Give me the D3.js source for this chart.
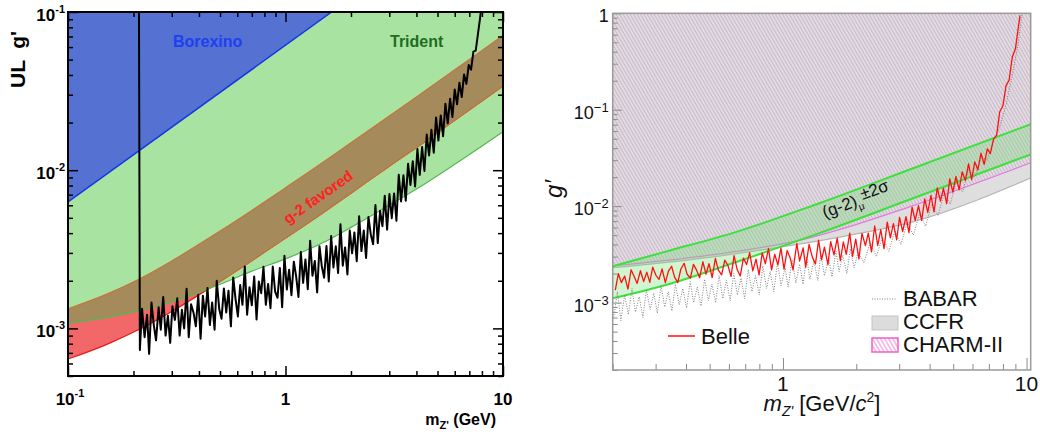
<!DOCTYPE html>
<html>
<head>
<meta charset="utf-8">
<script src="https://cdn.jsdelivr.net/npm/d3@7"></script>
<style>
  body { margin: 0; background: #fff; }
  svg { display: block; font-family: "Liberation Sans", Arial, sans-serif; }
</style>
</head>
<body>
<script>
const E3 = 1e-3; // every g' value below is stored in units of 1e-3

// ---------- left panel: constraints + upper limit ----------
const curveMass = [0.1, 0.15, 0.214, 0.3, 0.5, 0.7, 1, 1.5, 2, 3, 4, 6, 10];
const tridentG  = [1.08, 1.17, 1.3, 1.47, 1.9, 2.3, 2.75, 3.5, 4.35, 6.0, 7.6, 10.9, 17.5];
const g2LowG    = [0.64, 0.79, 0.99, 1.28, 1.98, 2.68, 3.72, 5.43, 7.16, 10.6, 13.9, 20.7, 34.1];
const g2HighG   = [1.33, 1.64, 2.06, 2.67, 4.12, 5.57, 7.74, 11.3, 14.9, 22.0, 29.0, 43.1, 71.0];
const borexinoMass = [0.1, 1.63];
const borexinoG    = [6.3, 100];
// observed upper limit [mass GeV, g' x1e-3]
const ulPoints = [[0.212,100],[0.214,0.73],[0.219,1.33],[0.225,0.88],[0.231,1.22],[0.236,0.69],[0.242,1.46],[0.248,1.05],[0.254,0.84],[0.261,1.36],[0.267,0.98],
  [0.274,1.58],[0.281,0.90],[0.288,1.20],[0.295,0.81],[0.302,1.38],[0.310,1.13],[0.318,1.55],[0.326,0.90],[0.334,1.31],[0.342,1.00],
  [0.351,1.78],[0.359,0.88],[0.368,1.42],[0.378,1.25],[0.387,1.03],[0.397,1.63],[0.407,0.86],[0.417,1.61],[0.427,1.19],[0.438,1.80],
  [0.449,1.05],[0.460,1.46],[0.472,0.98],[0.483,2.0],[0.496,1.32],[0.508,1.15],[0.521,1.79],[0.534,1.26],[0.547,1.73],[0.561,1.03],
  [0.575,2.10],[0.589,1.54],[0.604,1.19],[0.619,1.88],[0.634,1.41],[0.650,2.46],[0.666,1.22],[0.683,1.82],[0.700,1.40],[0.718,2.13],
  [0.736,1.14],[0.754,1.98],[0.773,1.67],[0.792,2.45],[0.812,1.41],[0.832,1.91],[0.853,1.34],[0.874,2.46],[0.896,1.71],[0.919,1.56],
  [0.942,2.41],[0.965,1.36],[0.989,2.88],[1.014,1.76],[1.039,2.35],[1.065,1.62],[1.092,2.64],[1.119,2.14],[1.147,1.58],[1.176,3.04],
  [1.205,1.94],[1.235,2.73],[1.266,1.77],[1.298,3.58],[1.330,2.15],[1.364,2.67],[1.398,1.69],[1.433,3.31],[1.468,2.48],[1.505,2.09],
  [1.543,3.32],[1.581,1.98],[1.621,3.84],[1.661,2.43],[1.703,3.30],[1.745,2.24],[1.789,4.56],[1.834,2.49],[1.879,3.25],[1.926,2.19],
  [1.975,4.15],[2.024,2.98],[2.074,4.04],[2.126,2.66],[2.180,5.12],[2.234,3.08],[2.290,4.15],[2.347,2.79],[2.406,5.06],[2.466,3.94],
  [2.528,3.40],[2.591,6.02],[2.656,3.46],[2.722,5.54],[2.790,4.43],[2.860,6.90],[2.932,4.21],[3.005,7.07],[3.080,4.97],[3.157,7.13],
  [3.236,4.79],[3.317,9.35],[3.400,6.35],[3.485,9.30],[3.572,6.41],[3.661,11.0],[3.753,8.06],[3.847,11.4],[3.943,7.90],[4.041,13.6],
  [4.142,9.35],[4.246,14.0],[4.352,9.90],[4.461,16.8],[4.572,12.4],[4.687,18.0],[4.804,12.9],[4.924,21.5],[5.047,15.4],[5.173,22.2],
  [5.303,16.4],[5.435,26.3],[5.571,19.8],[5.710,28.3],[5.853,21.7],[5.999,32.4],[6.149,26.1],[6.303,35.7],[6.461,29.0],[6.622,40.3],
  [6.788,35.1],[6.958,46.2],[7.131,43.2],[7.310,56.2],[7.492,57.0],[7.680,73.5],[7.872,95.0],[8.0,130]];

// ---------- right panel: Belle ----------
const bandMass  = [0.2, 0.333, 0.625, 1.42, 3.49, 10.5];
const bandHighG = [2.38, 3.40, 5.28, 10.8, 25.2, 71.3];
const bandLowG  = [1.11, 1.53, 2.57, 5.28, 12.3, 34.7];
const charmMass = [0.2, 0.5, 1.25, 1.8, 3.22, 10.5];
const charmG    = [2.4, 3.1, 4.6, 5.95, 9.6, 28.4];
const ccfrMass  = [0.2, 0.5, 1.0, 1.8, 3.49, 10.5];
const ccfrG     = [2.3, 2.95, 3.8, 4.9, 7.0, 19.8];
const bellePoints = [[0.205,1.35],[0.211,2.0],[0.217,1.61],[0.224,1.88],[0.231,1.38],[0.238,2.19],[0.245,1.86],[0.252,1.58],[0.260,2.14],[0.268,1.65],
  [0.276,2.07],[0.284,1.62],[0.292,2.33],[0.301,1.92],[0.310,1.74],[0.319,2.24],[0.329,1.61],[0.339,2.13],[0.349,2.38],[0.359,1.84],
  [0.370,1.61],[0.381,2.23],[0.393,2.56],[0.404,1.97],[0.417,1.80],[0.429,2.49],[0.442,2.17],[0.455,1.81],[0.469,2.65],[0.483,1.97],
  [0.497,2.53],[0.512,1.82],[0.528,2.87],[0.543,2.17],[0.560,1.94],[0.577,2.76],[0.594,2.44],[0.612,1.87],[0.630,3.07],[0.649,2.19],
  [0.668,1.89],[0.688,2.89],[0.709,2.48],[0.730,3.30],[0.752,2.13],[0.775,2.82],[0.798,1.94],[0.822,3.28],[0.847,2.53],[0.872,3.65],
  [0.898,2.18],[0.925,3.17],[0.953,2.46],[0.981,3.67],[1.01,2.22],[1.04,3.46],[1.07,2.91],[1.10,2.18],[1.14,4.10],[1.17,2.70],
  [1.21,3.70],[1.24,2.33],[1.28,4.02],[1.32,2.96],[1.36,2.52],[1.40,4.45],[1.44,2.77],[1.48,3.75],[1.53,2.48],[1.57,4.29],
  [1.62,3.13],[1.67,4.66],[1.72,2.73],[1.77,4.26],[1.82,3.17],[1.88,5.25],[1.93,3.02],[1.99,4.55],[2.05,2.84],[2.11,5.23],
  [2.18,3.90],[2.24,5.25],[2.31,3.35],[2.38,6.23],[2.45,3.91],[2.52,5.70],[2.60,3.63],[2.68,6.82],[2.76,4.68],[2.84,6.59],
  [2.93,4.48],[3.01,7.67],[3.10,5.46],[3.20,7.79],[3.29,5.32],[3.39,9.77],[3.49,7.11],[3.60,10.1],[3.71,7.12],[3.82,11.9],
  [3.93,8.6],[4.05,12.9],[4.17,8.74],[4.30,15.5],[4.43,11.3],[4.56,15.3],[4.70,10.6],[4.84,19.2],[4.98,14.0],[5.13,20.3],
  [5.29,14.8],[5.44,22.7],[5.61,18.5],[5.78,27.5],[5.95,18.8],[6.13,28.8],[6.31,23.8],[6.50,35.4],[6.70,27.2],[6.90,39.2],
  [7.10,35.1],[7.32,49.5],[7.54,54.6],[7.76,95.2],[8.00,110],[8.24,178],[8.48,203],[8.74,352],[9.00,428],[9.27,735],[9.40,950]];
const babarPoints = [[0.202,0.7],[0.209,1.3],[0.216,0.65],[0.224,1.2],[0.232,0.75],[0.240,1.4],[0.248,0.8],[0.257,1.15],[0.266,0.7],[0.275,1.35],[0.285,0.85],[0.295,1.25],[0.305,0.78],[0.316,1.5],[0.327,0.9],[0.338,1.3],[0.350,0.82],[0.362,1.55],[0.375,0.95],[0.388,1.4],[0.402,0.88],[0.416,1.65],[0.430,1.0],[0.445,1.45],[0.461,0.92],[0.477,1.75],[0.494,1.05],[0.511,1.55],[0.529,1.0],[0.547,1.9],[0.566,1.1],[0.586,1.7],[0.607,1.05],[0.628,2.0],[0.650,1.2],[0.673,1.8],[0.696,1.1],[0.720,2.2],[0.746,1.3],[0.772,1.9],[0.799,1.2],[0.827,2.4],[0.856,1.4],[0.886,2.1],[0.917,1.3],[0.949,2.6],[0.982,1.5],[1.02,2.3],[1.05,1.45],[1.09,2.8],[1.13,1.6],[1.17,2.5],[1.21,1.55],[1.25,3.0],[1.29,1.75],[1.34,2.7],[1.39,1.7],[1.43,3.2],[1.48,1.9],[1.54,2.9],[1.59,1.85],[1.65,3.4],[1.70,2.1],[1.76,3.1],[1.83,2.0],[1.89,3.6],[1.96,2.3],[2.03,3.3],[2.15,2.6],[2.28,4.2],[2.42,3.0],[2.56,4.8],[2.72,3.4],[2.88,5.6],[3.05,4.0],[3.24,6.8],[3.43,5.0],[3.64,8.4],[3.85,6.2],[4.08,10.5],[4.33,8.0],[4.59,13.5],[4.86,10.5],[5.15,18.0],[5.46,14.0],[5.79,24.0],[6.14,20.0],[6.51,32.0],[6.90,30.0],[7.31,48.0],[7.75,65.0],[8.22,110],[8.71,220],[9.23,480],[9.6,1000]];

const svg = d3.select("body").append("svg")
    .attr("width", 1040)
    .attr("height", 432)
    .attr("viewBox", [0, 0, 1040, 432]);
const defs = svg.append("defs");

const isDecade = v => Math.abs(Math.log10(v) - Math.round(Math.log10(v))) < 1e-9;

// inward tick marks through d3.axis, majors longer than minors
function ticks(g, axis, scale, at, major, minor, color, width) {
    const all = scale.ticks();
    [[all.filter(isDecade), major], [all.filter(v => !isDecade(v)), minor]].forEach(([vals, size]) => {
        g.append("g")
            .attr("transform", at)
            .call(axis(scale).tickValues(vals).tickSize(size).tickFormat(""))
            .call(a => a.select(".domain").remove())
            .call(a => a.selectAll(".tick line").attr("stroke", color).attr("stroke-width", width));
    });
}

function powText(sel, exp, supSize, supDy) {
    sel.append("tspan").text("10");
    sel.append("tspan").attr("font-size", supSize).attr("dy", supDy).text(exp);
}

// ================= left panel =================
const xL = d3.scaleLog().domain([0.1, 10]).range([68, 503]);
const yL = d3.scaleLog().domain([5e-4, 0.1]).range([376, 12]);
const topL = yL(yL.domain()[1]);

const curveRows = curveMass.map((m, i) => ({m, tri: tridentG[i] * E3, lo: g2LowG[i] * E3, hi: g2HighG[i] * E3}));
const borexRows = borexinoMass.map((m, i) => ({m, g: borexinoG[i] * E3}));

const triArea = d3.area().curve(d3.curveMonotoneX)
    .x(d => xL(d.m)).y0(topL).y1(d => yL(d.tri));
const bandArea = d3.area().curve(d3.curveMonotoneX)
    .x(d => xL(d.m)).y0(d => yL(d.lo)).y1(d => yL(d.hi));
const lineL = key => d3.line().curve(d3.curveMonotoneX).x(d => xL(d.m)).y(d => yL(d[key]));

defs.append("clipPath").attr("id", "clipL").append("rect")
    .attr("x", xL.range()[0]).attr("y", topL)
    .attr("width", xL.range()[1] - xL.range()[0]).attr("height", yL.range()[0] - topL);
defs.append("clipPath").attr("id", "clipTri").append("path").attr("d", triArea(curveRows));

const pL = svg.append("g").attr("clip-path", "url(#clipL)");

pL.append("path").attr("d", triArea(curveRows)).attr("fill", "#a9e3a1");
pL.append("path").attr("d", bandArea(curveRows)).attr("fill", "#f26868");
pL.append("path").attr("d", lineL("lo")(curveRows)).attr("fill", "none").attr("stroke", "#e81818").attr("stroke-width", 1.2);
const inTri = pL.append("g").attr("clip-path", "url(#clipTri)");
inTri.append("path").attr("d", bandArea(curveRows)).attr("fill", "#a58a5c");
inTri.append("path").attr("d", lineL("lo")(curveRows)).attr("fill", "none").attr("stroke", "#c07838").attr("stroke-width", 1.2);
pL.append("path").attr("d", lineL("hi")(curveRows)).attr("fill", "none").attr("stroke", "#c07838").attr("stroke-width", 1.2);
pL.append("path").attr("d", lineL("tri")(curveRows)).attr("fill", "none").attr("stroke", "#52b852").attr("stroke-width", 1.2);

pL.append("path")
    .attr("d", d3.area().x(d => xL(d.m)).y0(topL).y1(d => yL(d.g))(borexRows))
    .attr("fill", "#5571d2");
pL.append("path")
    .attr("d", d3.line().x(d => xL(d.m)).y(d => yL(d.g))(borexRows))
    .attr("fill", "none").attr("stroke", "#1535e8").attr("stroke-width", 1.5);

pL.append("path")
    .attr("d", d3.line().x(d => xL(d[0])).y(d => yL(d[1] * E3))(ulPoints))
    .attr("fill", "none").attr("stroke", "#000").attr("stroke-width", 2).attr("stroke-linejoin", "round");

// frame + ticks
const axL = svg.append("g");
ticks(axL, d3.axisTop, xL, `translate(0,${yL.range()[0]})`, 10, 5, "#000", 1.5);
ticks(axL, d3.axisBottom, xL, `translate(0,${topL})`, 10, 5, "#000", 1.5);
ticks(axL, d3.axisRight, yL, `translate(${xL.range()[0]},0)`, 10, 5, "#000", 1.5);
ticks(axL, d3.axisLeft, yL, `translate(${xL.range()[1]},0)`, 10, 5, "#000", 1.5);
axL.append("rect")
    .attr("x", xL.range()[0]).attr("y", topL)
    .attr("width", xL.range()[1] - xL.range()[0]).attr("height", yL.range()[0] - topL)
    .attr("fill", "none").attr("stroke", "#000").attr("stroke-width", 2);

const txtL = svg.append("g").attr("font-weight", "bold").attr("fill", "#000");
[1e-3, 1e-2, 1e-1].forEach(v => {
    txtL.append("text").attr("x", xL.range()[0] - 3).attr("y", yL(v) + 9)
        .attr("text-anchor", "end").attr("font-size", 17)
        .call(t => powText(t, String(Math.round(Math.log10(v))), 11, -8));
});
txtL.append("text").attr("x", xL(0.1) + 2).attr("y", 405).attr("text-anchor", "middle").attr("font-size", 17)
    .call(t => powText(t, "-1", 11, -8));
txtL.append("text").attr("x", xL(1)).attr("y", 405).attr("text-anchor", "middle").attr("font-size", 17).text("1");
txtL.append("text").attr("x", xL(10)).attr("y", 405).attr("text-anchor", "middle").attr("font-size", 17).text("10");

txtL.append("text").attr("x", 496).attr("y", 425).attr("text-anchor", "end").attr("font-size", 16)
    .call(t => {
        t.append("tspan").text("m");
        t.append("tspan").attr("font-size", 11).attr("dy", 4).text("Z'");
        t.append("tspan").attr("dy", -4).text(" (GeV)");
    });
txtL.append("text").attr("transform", "translate(25,88) rotate(-90)")
    .attr("font-size", 21).style("white-space", "pre").text("UL  g'");

txtL.append("text").attr("x", 173).attr("y", 47).attr("font-size", 16).attr("fill", "#1f3ff0").text("Borexino");
txtL.append("text").attr("x", 390).attr("y", 47).attr("font-size", 16).attr("fill", "#1e6e1e").text("Trident");
txtL.append("text").attr("transform", "translate(318,197) rotate(-35)")
    .attr("text-anchor", "middle").attr("dy", "0.35em").attr("font-size", 15).attr("fill", "#ff2020")
    .text("g-2 favored");

// ================= right panel =================
const xR = d3.scaleLog().domain([0.2, 10.4]).range([612.7, 1030.7]);
const yR = d3.scaleLog().domain([2e-4, 1]).range([370, 13.3]);
const topR = yR(yR.domain()[1]);

const hatch = defs.append("pattern").attr("id", "hatch")
    .attr("patternUnits", "userSpaceOnUse").attr("width", 3).attr("height", 3)
    .attr("patternTransform", "rotate(-30)");
hatch.append("line").attr("x1", 1.5).attr("y1", 0).attr("x2", 1.5).attr("y2", 3)
    .attr("stroke", "#d0b2d0").attr("stroke-width", 1);
const hatchLeg = defs.append("pattern").attr("id", "hatchLeg")
    .attr("patternUnits", "userSpaceOnUse").attr("width", 3.5).attr("height", 3.5)
    .attr("patternTransform", "rotate(-30)");
hatchLeg.append("rect").attr("width", 3.5).attr("height", 3.5).attr("fill", "#fff");
hatchLeg.append("line").attr("x1", 1.75).attr("y1", 0).attr("x2", 1.75).attr("y2", 3.5)
    .attr("stroke", "#f09ad8").attr("stroke-width", 1.2);

defs.append("clipPath").attr("id", "clipR").append("rect")
    .attr("x", xR.range()[0]).attr("y", topR)
    .attr("width", xR.range()[1] - xR.range()[0]).attr("height", yR.range()[0] - topR);

const rowsOf = (mass, vals) => mass.map((m, i) => ({m, g: vals[i] * E3}));
const ccfrRows = rowsOf(ccfrMass, ccfrG);
const charmRows = rowsOf(charmMass, charmG);
const bandRows = bandMass.map((m, i) => ({m, lo: bandLowG[i] * E3, hi: bandHighG[i] * E3}));

const aboveR = d3.area().curve(d3.curveMonotoneX).x(d => xR(d.m)).y0(topR).y1(d => yR(d.g));
const lineR = d3.line().curve(d3.curveMonotoneX).x(d => xR(d.m)).y(d => yR(d.g));

const pR = svg.append("g").attr("clip-path", "url(#clipR)");
pR.append("path").attr("d", aboveR(ccfrRows)).attr("fill", "#dedede");
pR.append("path").attr("d", aboveR(charmRows)).attr("fill", "url(#hatch)");
pR.append("path").attr("d", lineR(ccfrRows)).attr("fill", "none").attr("stroke", "#b4b4b4").attr("stroke-width", 1.2);
pR.append("path").attr("d", lineR(charmRows)).attr("fill", "none").attr("stroke", "#e27ae0").attr("stroke-width", 1.2);

pR.append("path")
    .attr("d", d3.area().curve(d3.curveMonotoneX).x(d => xR(d.m)).y0(d => yR(d.lo)).y1(d => yR(d.hi))(bandRows))
    .attr("fill", "#6fe06f").attr("fill-opacity", 0.32);
["lo", "hi"].forEach(k => {
    pR.append("path")
        .attr("d", d3.line().curve(d3.curveMonotoneX).x(d => xR(d.m)).y(d => yR(d[k]))(bandRows))
        .attr("fill", "none").attr("stroke", "#3ee03e").attr("stroke-width", 2);
});

pR.append("path")
    .attr("d", d3.line().x(d => xR(d[0])).y(d => yR(d[1] * E3))(babarPoints))
    .attr("fill", "none").attr("stroke", "#808080").attr("stroke-width", 1).attr("stroke-dasharray", "1,1.5");
pR.append("path")
    .attr("d", d3.line().x(d => xR(d[0])).y(d => yR(d[1] * E3))(bellePoints))
    .attr("fill", "none").attr("stroke", "#ff1010").attr("stroke-width", 1.3).attr("stroke-linejoin", "round");

const axR = svg.append("g");
ticks(axR, d3.axisRight, yR, `translate(${xR.range()[0]},0)`, 9, 5, "#8a8a8a", 1);
ticks(axR, d3.axisTop, xR, `translate(0,${yR.range()[0]})`, 12, 6, "#8a8a8a", 1);
axR.append("rect")
    .attr("x", xR.range()[0]).attr("y", topR)
    .attr("width", xR.range()[1] - xR.range()[0]).attr("height", yR.range()[0] - topR)
    .attr("fill", "none").attr("stroke", "#9a9a9a").attr("stroke-width", 1.5);

const txtR = svg.append("g").attr("fill", "#111");
[1, 1e-1, 1e-2, 1e-3].forEach(v => {
    const t = txtR.append("text").attr("x", xR.range()[0] - 4).attr("y", yR(v) + 9)
        .attr("text-anchor", "end").attr("font-size", 18);
    if (v === 1) t.text("1");
    else powText(t, "\u2212" + Math.round(-Math.log10(v)), 13, -7);
});
[1, 10].forEach(v => {
    txtR.append("text").attr("x", xR(v)).attr("y", 391).attr("text-anchor", "middle")
        .attr("font-size", 21).text(String(v));
});
txtR.append("text").attr("x", 822).attr("y", 411).attr("text-anchor", "middle").attr("font-size", 22)
    .call(t => {
        t.append("tspan").attr("font-style", "italic").text("m");
        t.append("tspan").attr("font-style", "italic").attr("font-size", 14).attr("dy", 5).text("Z'");
        t.append("tspan").attr("dy", -5).text(" [GeV/");
        t.append("tspan").attr("font-style", "italic").text("c");
        t.append("tspan").attr("font-size", 14).attr("dy", -9).text("2");
        t.append("tspan").attr("dy", 9).text("]");
    });
txtR.append("text").attr("transform", "translate(562,189) rotate(-90)")
    .attr("text-anchor", "middle").attr("font-size", 24).attr("font-style", "italic").text("g\u2032");

txtR.append("text").attr("transform", "translate(858,206) rotate(-20)")
    .attr("text-anchor", "middle").attr("font-size", 17)
    .call(t => {
        t.append("tspan").text("(g-2)");
        t.append("tspan").attr("font-size", 10).attr("dy", 5).text("\u03bc");
        t.append("tspan").attr("dy", -9).text("\u00b12\u03c3");
    });

// legends
const legR = svg.append("g").attr("font-size", 22).attr("fill", "#111");
legR.append("line").attr("x1", 668).attr("x2", 695).attr("y1", 336).attr("y2", 336)
    .attr("stroke", "#ff1010").attr("stroke-width", 1.5);
legR.append("text").attr("x", 701).attr("y", 344).text("Belle");
legR.append("line").attr("x1", 872).attr("x2", 897).attr("y1", 299).attr("y2", 299)
    .attr("stroke", "#808080").attr("stroke-width", 1).attr("stroke-dasharray", "1,1.5");
legR.append("text").attr("x", 903).attr("y", 306).text("BABAR");
legR.append("rect").attr("x", 872).attr("y", 316).attr("width", 26).attr("height", 14)
    .attr("fill", "#dcdcdc").attr("stroke", "#c4c4c4");
legR.append("text").attr("x", 903).attr("y", 329).text("CCFR");
legR.append("rect").attr("x", 872).attr("y", 338).attr("width", 26).attr("height", 14)
    .attr("fill", "url(#hatchLeg)").attr("stroke", "#f060c8").attr("stroke-width", 1.5);
legR.append("text").attr("x", 903).attr("y", 352).text("CHARM-II");
</script>
</body>
</html>
